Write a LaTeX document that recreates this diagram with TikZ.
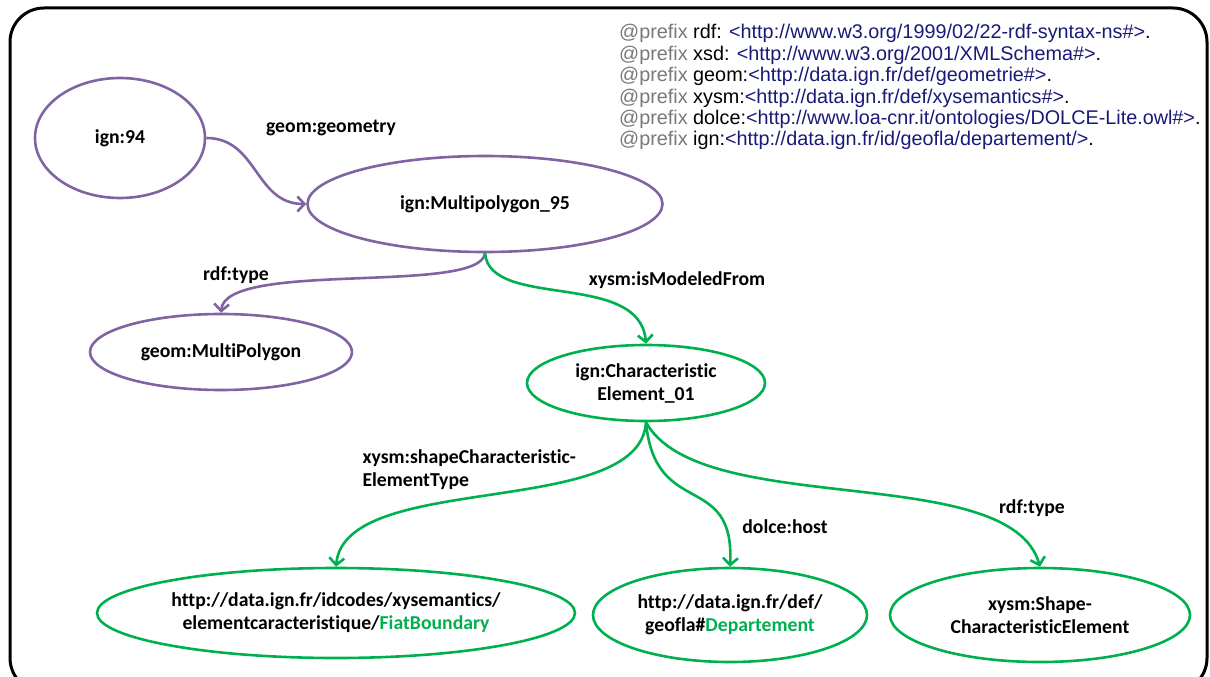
\documentclass[tikz,border=0pt]{standalone}
\usepackage{fontspec}
\setmainfont{Liberation Sans}
\newfontfamily\calfont[Ligatures=NoCommon]{Carlito}
\usetikzlibrary{shapes.geometric,arrows.meta}
\definecolor{purp}{RGB}{128,100,162}
\definecolor{grn}{RGB}{0,176,80}
\definecolor{navy}{RGB}{25,25,120}
\definecolor{pgray}{RGB}{120,120,120}
\begin{document}
\begin{tikzpicture}[x=1pt,y=-1pt,
  node/.style={ellipse,line width=2.6pt,inner sep=0pt,align=center,font=\calfont\bfseries\fontsize{19.7}{23}\selectfont},
  pnode/.style={node,draw=purp},
  gnode/.style={node,draw=grn},
  lbl/.style={font=\calfont\bfseries\fontsize{19.7}{23}\selectfont,align=left},
  pedge/.style={draw=purp,line width=2.6pt,-{Straight Barb[length=7pt,width=15pt]}},
  gedge/.style={draw=grn,line width=2.6pt,-{Straight Barb[length=7pt,width=15pt]}},
  pfx/.style={anchor=west,inner sep=0pt,font=\fontsize{19.8}{22}\selectfont}
]
\useasboundingbox (0,0) rectangle (1210,677);
\draw[line width=3pt,rounded corners=34pt] (10,8) rectangle (1207,692);

% prefixes
\node[pfx] (p1) at (619,33) {\textcolor{pgray}{@prefix} rdf: \textcolor{navy}{<http://www.w3.org/1999/02/22-rdf-syntax-ns\#>}.};
\node[pfx] (p2) at (619,55) {\textcolor{pgray}{@prefix} xsd: \textcolor{navy}{<http://www.w3.org/2001/XMLSchema\#>}.};
\node[pfx] (p3) at (619,76) {\textcolor{pgray}{@prefix} geom:\textcolor{navy}{<http://data.ign.fr/def/geometrie\#>}.};
\node[pfx] (p4) at (619,98) {\textcolor{pgray}{@prefix} xysm:\textcolor{navy}{<http://data.ign.fr/def/xysemantics\#>}.};
\node[pfx] (p5) at (619,119) {\textcolor{pgray}{@prefix} dolce:\textcolor{navy}{<http://www.loa-cnr.it/ontologies/DOLCE-Lite.owl\#>}.};
\node[pfx] (p6) at (619,140) {\textcolor{pgray}{@prefix} ign:\textcolor{navy}{<http://data.ign.fr/id/geofla/departement/>}.};

% nodes
\node[pnode,minimum width=170pt,minimum height=120pt] (ign94) at (120,138) {ign:94};
\node[pnode,minimum width=355pt,minimum height=96pt] (mp95) at (485,204) {ign:Multipolygon\_95};
\node[pnode,minimum width=262pt,minimum height=76pt] (gmp) at (221,352) {geom:MultiPolygon};
\node[gnode,minimum width=238pt,minimum height=76pt] (ce) at (646,383) {ign:Characteristic\\Element\_01};
\node[gnode,minimum width=478pt,minimum height=90pt] (fb) at (336,613) {http://data.ign.fr/idcodes/xysemantics/\\elementcaracteristique/\textcolor{grn}{FiatBoundary}};
\node[gnode,minimum width=274pt,minimum height=94pt] (dep) at (730,615) {http://data.ign.fr/def/\\geofla\#\textcolor{grn}{Departement}};
\node[gnode,minimum width=300pt,minimum height=94pt] (sce) at (1040,615) {xysm:Shape-\\CharacteristicElement};

% edges
\draw[pedge] (ign94.east) to[out=0,in=180,looseness=1.1] (mp95.west);
\draw[pedge] (mp95.south) .. controls (480,295) and (225,260) .. (gmp.north);
\draw[gedge] (mp95.south) .. controls (490,310) and (640,270) .. (ce.north);
\draw[gedge] (ce.south) .. controls (640,520) and (345,470) .. (fb.north);
\draw[gedge] (ce.south) .. controls (655,520) and (735,470) .. (dep.north);
\draw[gedge] (ce.south) .. controls (700,520) and (1010,460) .. (sce.north);

% labels
\node[lbl] (l1) at (331,128) {geom:geometry};
\node[lbl] (l2) at (236,275) {rdf:type};
\node[lbl] (l3) at (677,280) {xysm:isModeledFrom};
\node[lbl,anchor=west] (l4) at (359,470) {xysm:shapeCharacteristic-\\ElementType};
\node[lbl] (l5) at (785,527) {dolce:host};
\node[lbl] (l6) at (1032,508) {rdf:type};
\end{tikzpicture}
\end{document}
